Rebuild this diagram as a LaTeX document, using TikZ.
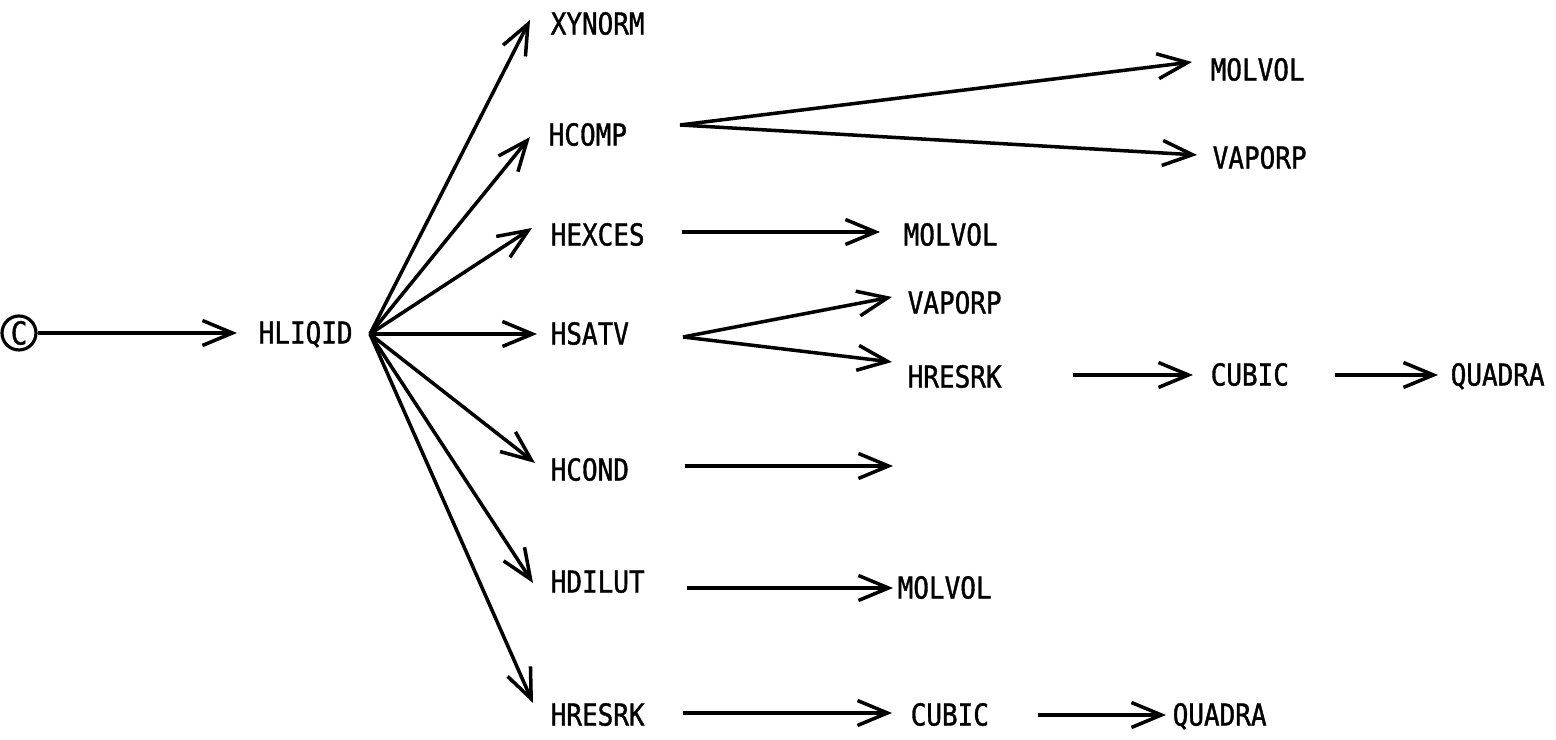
\documentclass[tikz,border=0pt]{standalone}
\usepackage{fontspec}
\newfontfamily\routinefont{DejaVu Sans Mono}[FakeStretch=0.86, FakeBold=1.2]
\usepackage{tikz}
\usetikzlibrary{arrows.meta}

\tikzset{
  routine/.style={anchor=west, inner sep=0pt, text height=6pt, text depth=0pt,
                  font=\routinefont\fontsize{8.6}{10}\selectfont},
  call/.style={-{Straight Barb[length=3mm, width=2.5mm]}, line width=1pt}
}

\begin{document}
\begin{tikzpicture}
\useasboundingbox (0,0) rectangle (15.56,7.40);

% entry point and first level
\node[draw, circle, line width=0.9pt, minimum size=0.34cm, inner sep=0pt,
      font=\routinefont\fontsize{9}{10}\selectfont] (entry) at (0.19,4.07) {C};
\node[routine] (hliqid) at (2.58,4.07) {HLIQID};
\draw[call] (entry) -- ([xshift=-2.1mm]hliqid.west);

% routines called by HLIQID
\node[routine] (xynorm) at (5.50,7.16) {XYNORM};
\node[routine] (hcomp) at (5.48,6.05) {HCOMP};
\node[routine] (hexces) at (5.50,5.05) {HEXCES};
\node[routine] (hsatv) at (5.50,4.06) {HSATV};
\node[routine] (hcond) at (5.50,2.70) {HCOND};
\node[routine] (hdilut) at (5.50,1.58) {HDILUT};
\node[routine] (hresrk) at (5.50,0.25) {HRESRK};

\coordinate (fan) at (3.70,4.06);
\draw[call] (fan) -- ([shift={(-0.20,0.04)}]xynorm.west);
\draw[call] (fan) -- ([shift={(-0.18,-0.02)}]hcomp.west);
\draw[call] (fan) -- ([shift={(-0.18,0.07)}]hexces.west);
\draw[call] (fan) -- ([shift={(-0.13,0)}]hsatv.west);
\draw[call] (fan) -- ([shift={(-0.15,0.07)}]hcond.west);
\draw[call] (fan) -- ([shift={(-0.17,-0.01)}]hdilut.west);
\draw[call] (fan) -- ([shift={(-0.17,0.12)}]hresrk.west);

% HCOMP
\node[routine] (molvolA) at (12.10,6.70) {MOLVOL};
\node[routine] (vaporpA) at (12.12,5.82) {VAPORP};
\coordinate (hcompout) at (6.80,6.15);
\draw[call] (hcompout) -- ([shift={(-0.18,0.08)}]molvolA.west);
\draw[call] (hcompout) -- ([shift={(-0.15,0.03)}]vaporpA.west);

% HEXCES
\node[routine] (molvolB) at (9.03,5.05) {MOLVOL};
\draw[call] ([shift={(0.37,0.03)}]hexces.east) -- ([shift={(-0.23,0.03)}]molvolB.west);

% HSATV
\node[routine] (vaporpB) at (9.07,4.37) {VAPORP};
\node[routine] (hresrkB) at (9.07,3.63) {HRESRK};
\node[routine] (cubicA) at (12.10,3.65) {CUBIC};
\node[routine] (quadraA) at (14.50,3.65) {QUADRA};
\coordinate (hsatvout) at (6.83,4.03);
\draw[call] (hsatvout) -- ([shift={(-0.15,0.06)}]vaporpB.west);
\draw[call] (hsatvout) -- ([shift={(-0.15,0.15)}]hresrkB.west);
\draw[call] ([xshift=7.1mm]hresrkB.east |- cubicA.west) -- ([xshift=-1.7mm]cubicA.west);
\draw[call] ([xshift=4.5mm]cubicA.east) -- ([xshift=-1.2mm]quadraA.west);

% HCOND (open end)
\coordinate (hcondend) at (8.93,2.74);
\draw[call] ([xshift=5.5mm]hcond.east |- hcondend) -- (hcondend);

% HDILUT
\node[routine] (molvolC) at (8.97,1.52) {MOLVOL};
\draw[call] ([xshift=4.2mm]hdilut.east |- molvolC.west) -- ([xshift=-0.4mm]molvolC.west);

% HRESRK
\node[routine] (cubicB) at (9.10,0.25) {CUBIC};
\node[routine] (quadraB) at (11.72,0.25) {QUADRA};
\draw[call] ([shift={(0.38,0.02)}]hresrk.east) -- ([shift={(-0.18,0.02)}]cubicB.west);
\draw[call] ([xshift=4.8mm]cubicB.east) -- ([xshift=-0.6mm]quadraB.west);

\end{tikzpicture}
\end{document}
